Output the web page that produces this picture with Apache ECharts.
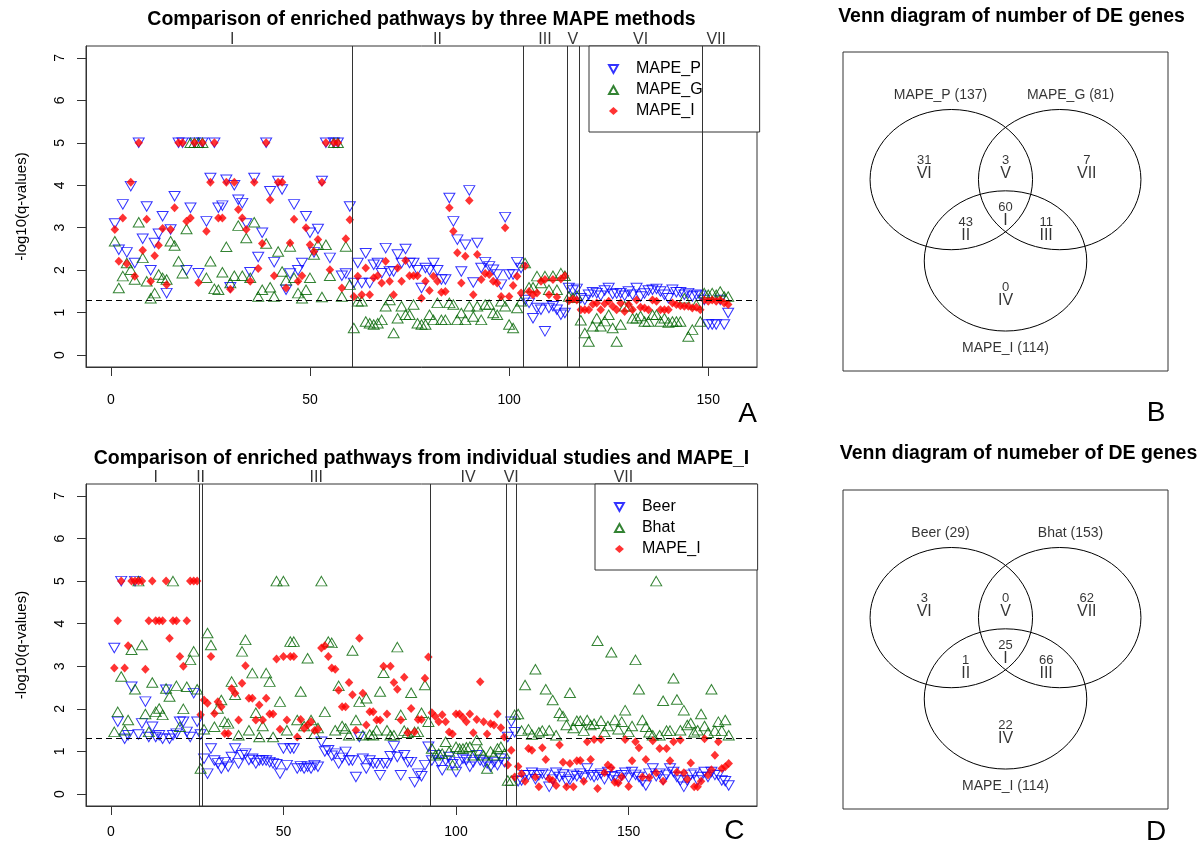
<!DOCTYPE html>
<html>
<head>
<meta charset="utf-8">
<script src="https://cdn.jsdelivr.net/npm/echarts@6/dist/echarts.min.js"></script>
<style>
html,body{margin:0;padding:0;background:#fff}
#chart{width:1204px;height:845px}
</style>
</head>
<body>
<div id="chart"></div>
<script>
// ---------- data ----------
// Regions of the three-way Venn diagram, in the order they are laid out on the x axis
const regionNames = ['I', 'II', 'III', 'IV', 'V', 'VI', 'VII'];
// which of the three sets (0, 1, 2) each region lies in
const regionSets = [[0, 1, 2], [0, 2], [1, 2], [2], [0, 1], [0], [1]];

const methodsTop = ['MAPE_P', 'MAPE_G', 'MAPE_I'];
const countsTop = [60, 43, 11, 0, 3, 31, 7];

const studiesBottom = ['Beer', 'Bhat', 'MAPE_I'];
const countsBottom = [25, 1, 66, 22, 0, 3, 62];

const yTicks = [0, 1, 2, 3, 4, 5, 6, 7];
const xTicks = [0, 50, 100, 150];
const qCut = 1.3; // -log10(0.05)

// -log10(q) per pathway, top panel
const mapeP = [
  3.1, 2.48, 3.55, 2.42, 3.98, 2.17, 5, 2.74, 3.5, 2.0,
  2.64, 2.86, 3.27, 1.46, 2.96, 3.74, 5, 5, 2.0, 3.47,
  5, 1.93, 5, 3.15, 4.17, 5, 3.47, 3.52, 4.13, 1.6,
  4.0, 3.66, 3.58, 3.1, 1.95, 4.17, 2.31, 2.88, 5, 3.86,
  2.19, 4.1, 3.9, 1.54, 1.92, 3.55, 2.0, 2.17, 3.27, 2.88,
  2.42, 2.97, 4.1, 5, 2.29, 5, 5, 1.87, 1.92, 3.5,
  1.7, 2.17, 1.7, 2.4, 1.7, 2.13, 2.17, 1.93, 2.52, 1.97,
  1.97, 2.37, 2.17, 2.5, 2.17, 2.17, 2.0, 1.58, 2.05, 2.0,
  2.17, 2.0, 1.78, 1.78, 3.7, 3.15, 2.72, 1.97, 2.6, 3.88,
  1.71, 2.64, 2.05, 2.19, 2.09, 2.01, 1.9, 1.66, 3.25, 1.9,
  1.9, 2.19, 2.05, 1.3, 1.23, 0.87, 1.11, 1.07, 0.56, 1.11,
  1.15, 1.07, 0.95, 0.99, 1.58, 1.52, 1.56, 1.34, 1.3, 1.42,
  1.48, 1.46, 1.4, 1.52, 1.58, 1.44, 1.45, 1.46, 1.4, 1.5,
  1.42, 1.58, 1.38, 1.45, 1.52, 1.54, 1.56, 1.5, 1.42, 1.34,
  1.54, 1.48, 1.48, 1.42, 1.46, 1.38, 1.42, 1.4, 1.3, 0.72,
  0.72, 0.72, 1.3, 0.72, 0.99
];
const mapeG = [
  2.68, 1.58, 1.86, 2.17, 2.01, 1.78, 3.13, 2.29, 1.74, 1.34,
  1.46, 1.9, 1.82, 1.78, 2.68, 2.58, 2.21, 1.93, 2.97, 5,
  5, 5, 5, 1.82, 2.21, 1.56, 1.54, 1.95, 2.55, 1.7,
  1.87, 3.05, 1.87, 2.76, 1.82, 3.13, 1.38, 1.54, 2.63, 1.6,
  1.38, 2.44, 1.97, 1.76, 2.56, 1.82, 1.46, 1.34, 1.54, 1.82,
  2.37, 2.6, 1.37, 2.6, 1.87, 5, 5, 1.38, 2.56, 1.66,
  0.64, 1.27, 1.27, 0.79, 0.75, 0.72, 0.75, 0.83, 1.15, 1.3,
  0.52, 0.87, 1.15, 0.95, 0.95, 1.19, 0.75, 0.72, 0.72, 0.95,
  0.83, 1.23, 0.83, 0.83, 1.23, 1.19, 0.83, 0.99, 0.83, 1.15,
  0.91, 1.15, 0.83, 1.19, 1.19, 0.99, 0.95, 1.27, 1.15, 0.72,
  0.64, 1.11, 1.27, 2.17, 1.6, 1.6, 1.86, 1.7, 1.86, 1.54,
  1.87, 1.54, 1.93, 1.87, 1.38, 1.35, 1.4, 0.82, 0.52, 0.32,
  0.68, 0.87, 0.68, 0.8, 0.95, 0.64, 0.32, 0.72, 1.15, 1.15,
  0.87, 0.87, 0.92, 0.79, 0.79, 0.95, 0.95, 0.79, 0.87, 0.77,
  0.79, 0.79, 0.79, 1.34, 0.44, 0.6, 1.19, 0.79, 1.46, 1.42,
  1.46, 1.42, 1.5, 1.38, 1.38
];
const mapeI = [
  2.96, 2.21, 3.23, 2.15, 4.07, 1.86, 5, 2.47, 3.2, 1.74,
  2.34, 2.59, 2.98, 1.66, 2.96, 3.47, 5, 5, 3.15, 3.23,
  5, 1.71, 5, 2.92, 4.07, 5, 3.23, 3.23, 4.07, 1.55,
  4.07, 3.43, 3.23, 2.96, 1.74, 4.07, 2.04, 2.63, 5, 3.66,
  1.87, 4.07, 4.07, 1.58, 2.64, 3.2, 1.74, 1.87, 3.0, 2.6,
  2.44, 2.72, 4.07, 5, 2.01, 5, 5, 1.58, 2.74, 3.19,
  1.38, 1.86, 1.42, 2.05, 1.42, 1.82, 1.87, 1.7, 2.21, 1.74,
  1.42, 2.05, 1.74, 2.23, 1.87, 1.87, 1.87, 1.34, 1.74, 1.52,
  1.86, 1.74, 1.48, 1.5, 3.47, 2.92, 2.41, 1.7, 2.33, 3.64,
  1.42, 2.37, 1.78, 1.92, 1.9, 1.74, 1.7, 1.38, 3.0, 1.38,
  1.64, 1.86, 1.46, 2.1, 1.5, 1.42, 1.46, 1.74, 1.78, 1.42,
  1.78, 1.37, 1.79, 1.87, 1.28, 1.32, 1.3, 1.07, 1.07, 1.07,
  1.2, 1.23, 1.07, 1.21, 1.27, 1.15, 1.07, 1.23, 1.03, 1.19,
  1.07, 1.3, 1.13, 1.11, 1.07, 1.3, 1.27, 1.07, 1.07, 1.07,
  1.23, 1.19, 1.16, 1.15, 1.15, 1.11, 1.13, 1.07, 1.3, 1.27,
  1.3, 1.27, 1.3, 1.23, 1.19
];

// -log10(q) per pathway, bottom panel
const beer = [
  3.43, 1.7, 5, 1.3, 1.38, 2.52, 5, 1.4, 1.66, 2.17,
  1.34, 1.58, 1.34, 1.38, 1.3, 2.45, 1.3, 1.38, 1.42, 1.7,
  1.7, 1.46, 1.34, 2.37, 1.7,
  1.4,
  0.83, 0.48, 1.07, 0.79, 0.72, 0.6, 0.75, 0.64, 0.87, 1.07,
  0.72, 0.91, 0.95, 0.8, 0.83, 0.72, 0.79, 0.79, 0.79, 0.75,
  0.72, 0.7, 0.48, 1.07, 0.68, 1.07, 1.07, 0.6, 0.65, 0.6,
  0.64, 0.6, 0.68, 0.64, 1.23, 1.0, 1.03, 0.9, 0.95, 0.72,
  0.85, 0.99, 0.79, 0.79, 0.4, 1.34, 0.83, 0.6, 0.79, 0.72,
  0.72, 0.44, 0.72, 0.72, 0.89, 1.12, 0.87, 0.44, 0.91, 0.75,
  0.75, 0.28, 0.48, 0.42, 0.68, 1.11,
  0.79, 0.91, 0.75, 0.56, 0.79, 0.87, 0.7, 0.52, 0.75, 0.83,
  0.8, 0.64, 0.75, 0.91, 0.79, 0.75, 0.72, 0.64, 0.75, 0.68, 0.83, 0.75,
  1.34, 1.7, 1.45,
  0.3, 0.32, 0.44, 0.44, 0.5, 0.35, 0.44, 0.48, 0.45, 0.17,
  0.34, 0.5, 0.4, 0.46, 0.3, 0.34, 0.45, 0.42, 0.48, 0.38,
  0.6, 0.44, 0.4, 0.44, 0.48, 0.35, 0.52, 0.42, 0.4, 0.32,
  0.44, 0.5, 0.38, 0.52, 0.45, 0.4, 0.3, 0.2, 0.48, 0.6,
  0.42, 0.48, 0.34, 0.45, 0.6, 0.52, 0.4, 0.32, 0.17, 0.32,
  0.45, 0.48, 0.32, 0.4, 0.52, 0.4, 0.52, 0.45, 0.44, 0.32,
  0.3, 0.2
];
const bhat = [
  1.46, 1.93, 2.76, 1.5, 1.74, 3.39, 2.46, 5, 3.5, 1.88,
  1.46, 2.62, 1.93, 2.01, 1.86, 2.48, 2.29, 5, 2.54, 1.58,
  2.0, 2.52, 3.15, 3.35, 2.46,
  0.6,
  1.52, 3.78, 3.5, 1.58, 2.01, 2.21, 1.7, 1.66, 2.64, 2.33,
  1.38, 3.35, 3.62, 1.5, 2.84, 1.91, 1.34, 1.6, 2.84, 2.64,
  1.34, 5, 2.17, 5, 1.5, 3.58, 3.58, 1.74, 2.41, 1.6,
  3.19, 1.74, 1.42, 1.55, 5, 1.93, 3.58, 3.55, 1.5, 2.54,
  1.6, 1.54, 1.38, 3.37, 1.74, 2.17, 1.38, 2.25, 1.4, 1.38,
  1.5, 2.41, 2.85, 1.5, 1.38, 1.38, 3.45, 1.86, 1.49, 1.44,
  2.38, 1.46, 1.46, 1.91, 2.56, 1.7,
  1.07, 0.91, 0.95, 0.95, 1.23, 1.0, 0.68, 1.11, 1.07, 1.07,
  1.1, 1.11, 0.91, 1.27, 1.03, 0.91, 0.6, 1.0, 0.91, 1.07, 1.11, 0.95,
  0.32, 0.32, 1.86,
  1.88, 1.49, 2.56, 1.52, 1.4, 2.93, 1.45, 1.49, 2.46, 1.5,
  2.21, 1.38, 1.91, 1.83, 1.62, 2.38, 1.55, 1.72, 1.72, 1.49,
  1.74, 1.62, 1.65, 3.6, 1.72, 1.46, 1.6, 3.33, 1.74, 1.52,
  1.7, 1.97, 1.46, 1.6, 3.15, 2.46, 1.74, 1.58, 1.45, 1.38,
  5.0, 1.38, 2.19, 1.49, 1.49, 2.72, 2.22, 1.5, 1.97, 1.62,
  1.67, 1.45, 1.5, 1.88, 1.6, 1.44, 2.46, 1.49, 1.7, 1.49,
  1.74, 1.38
];
const mapeIStudies = [
  2.96, 4.07, 5, 2.96, 3.48, 5, 5, 5, 5, 2.93,
  4.07, 5, 4.07, 4.07, 4.07, 5, 3.66, 4.07, 4.07, 3.23,
  3.0, 4.07, 5, 5, 5,
  1.86,
  2.21, 2.13, 3.23, 1.89, 2.17, 2.05, 1.42, 1.42, 2.48, 2.37,
  1.74, 2.6, 3.01, 2.25, 2.25, 1.74, 2.09, 1.74, 2.25, 1.88,
  1.88, 3.17, 1.52, 3.23, 1.74, 3.23, 3.23, 1.34, 1.75, 1.54,
  1.62, 1.7, 1.49, 1.52, 3.43, 3.48, 3.23, 2.96, 2.93, 2.44,
  2.05, 2.05, 2.62, 2.33, 1.5, 3.66, 2.37, 1.62, 1.93, 1.93,
  1.74, 1.74, 3.0, 1.88, 3.0, 2.62, 2.46, 1.74, 2.74, 1.44,
  2.01, 1.46, 1.75, 1.75, 2.72, 3.22,
  1.91, 1.82, 1.7, 1.86, 1.7, 1.46, 1.41, 1.88, 1.88, 1.8,
  1.7, 1.88, 1.44, 1.75, 2.64, 1.7, 1.41, 1.65, 1.62, 1.88, 1.56, 1.34,
  0.68, 1.03, 0.4,
  0.65, 0.48, 0.3, 1.07, 1.03, 0.4, 0.17, 1.09, 0.81, 0.36,
  0.32, 0.2, 1.15, 0.75, 0.17, 0.72, 0.17, 0.78, 0.79, 0.3,
  1.23, 0.81, 1.28, 0.13, 1.28, 0.5, 0.68, 0.62, 0.28, 0.26,
  0.4, 1.28, 0.18, 0.78, 1.23, 1.09, 0.4, 0.81, 0.39, 1.25,
  0.5, 1.07, 0.3, 1.07, 0.78, 1.23, 0.52, 1.27, 0.5, 0.35,
  0.73, 0.17, 0.17, 0.3, 1.3, 0.45, 0.57, 0.91, 1.23, 0.6,
  0.64, 0.72
];

// ---------- layout ----------
const FONT = '"Liberation Sans", Arial, sans-serif';
const Y_MIN = -0.28, Y_MAX = 7.28;
const gridTop = { left: 86, top: 46, width: 671, height: 321 };
const gridBottom = { left: 86, top: 484, width: 671, height: 322 };
const vennTopBox = { left: 843, top: 52, width: 325, height: 319 };
const vennBottomBox = { left: 843, top: 490, width: 325, height: 319 };
// Venn geometry, in circle-radius units
const vennCircles = [[-0.667, 0.58], [0.667, 0.58], [0, -0.58]];
const vennRegionPos = [[0, 0.08], [-0.49, -0.14], [0.5, -0.14], [0, -1.06], [0, 0.75], [-1.0, 0.75], [1.0, 0.75]];
const vennNamePos = [[-0.8, 1.79], [0.8, 1.79], [0, -1.82]];

// ---------- helpers ----------
const points = arr => arr.map((v, i) => [i + 1, v]);

// x positions of the separators between consecutive regions
function separators(counts) {
  const out = [];
  let c = 0;
  for (let i = 0; i < counts.length - 1; i++) { c += counts[i]; out.push(c + 0.5); }
  return out;
}
// centre of every non-empty region, for the numerals above the plot
function regionCentres(counts) {
  const out = [];
  let c = 0;
  counts.forEach((n, i) => {
    if (n > 0) out.push({ value: [c + 0.5 + n / 2, Y_MAX], txt: regionNames[i] });
    c += n;
  });
  return out;
}
function setTotals(counts) {
  return [0, 1, 2].map(s => counts.reduce((a, n, i) => a + (regionSets[i].includes(s) ? n : 0), 0));
}

// marker per series position: open down-triangle, open up-triangle, filled diamond
const markerStyles = [
  { symbol: 'triangle', symbolRotate: 180, symbolSize: [11, 9.5],
    itemStyle: { color: 'rgba(255,255,255,0)', borderColor: '#0000ff', borderWidth: 1 } },
  { symbol: 'triangle', symbolSize: [11, 9.5],
    itemStyle: { color: 'rgba(255,255,255,0)', borderColor: '#006400', borderWidth: 1 } },
  { symbol: 'diamond', symbolSize: [8.5, 9],
    itemStyle: { color: '#ff0000' } }
];
const legendIcons = ['path://M0,0L10,0L5,9Z', 'path://M5,0L10,9L0,9Z', 'diamond'];

function panelSeries(gi, names, values, counts) {
  const list = names.map((nm, k) => Object.assign({
    type: 'scatter', name: nm, xAxisIndex: gi, yAxisIndex: gi,
    data: points(values[k]), silent: true, emphasis: { disabled: true }, z: 2 + k
  }, markerStyles[k]));
  list[0].markLine = {
    silent: true, symbol: 'none', animation: false,
    label: { show: false },
    lineStyle: { color: '#333', width: 1, type: 'solid' },
    data: separators(counts).map(b => ({ xAxis: b }))
      .concat([{ yAxis: qCut, lineStyle: { color: '#000', type: [6, 4], width: 1 } }])
  };
  list.push({
    type: 'scatter', xAxisIndex: gi, yAxisIndex: gi, silent: true, clip: false,
    symbolSize: 0, data: regionCentres(counts),
    label: { show: true, position: 'inside', offset: [0, -6], formatter: p => p.data.txt,
      fontSize: 16, color: '#000', fontFamily: FONT }
  });
  return list;
}

function vennSeries(gi, names, counts) {
  const tot = setTotals(counts);
  return [
    {
      type: 'custom', xAxisIndex: gi, yAxisIndex: gi, silent: true, clip: false,
      data: vennCircles,
      renderItem: (params, api) => {
        const c = api.coord([api.value(0), api.value(1)]);
        const s = api.size([1, 1]);
        return { type: 'ellipse', shape: { cx: c[0], cy: c[1], rx: s[0], ry: s[1] },
          style: { fill: 'none', stroke: '#000', lineWidth: 1 } };
      }
    },
    {
      type: 'scatter', xAxisIndex: gi, yAxisIndex: gi, silent: true, symbolSize: 0,
      data: names.map((nm, k) => ({ value: vennNamePos[k], txt: nm + ' (' + tot[k] + ')' })),
      label: { show: true, position: 'inside', formatter: p => p.data.txt,
        fontSize: 14, color: '#000', fontFamily: FONT }
    },
    {
      type: 'scatter', xAxisIndex: gi, yAxisIndex: gi, silent: true, symbolSize: 0,
      data: counts.map((n, i) => ({ value: vennRegionPos[i], txt: '{n|' + n + '}\n{r|' + regionNames[i] + '}' })),
      label: { show: true, position: 'inside', formatter: p => p.data.txt,
        rich: {
          n: { fontSize: 13, lineHeight: 12, color: '#000', fontFamily: FONT, align: 'center' },
          r: { fontSize: 16, lineHeight: 15, color: '#000', fontFamily: FONT, align: 'center' }
        } }
    }
  ];
}

function scatterX(gi, min, max, margin) {
  return {
    gridIndex: gi, type: 'value', min: min, max: max,
    axisLine: { show: true, onZero: false, lineStyle: { color: '#333' } },
    axisTick: { show: true, length: 9, customValues: xTicks, lineStyle: { color: '#333' } },
    axisLabel: { customValues: xTicks, margin: margin, fontSize: 14, color: '#000', fontFamily: FONT },
    splitLine: { show: false }
  };
}
function scatterY(gi) {
  return {
    gridIndex: gi, type: 'value', min: Y_MIN, max: Y_MAX,
    name: '-log10(q-values)', nameLocation: 'middle', nameGap: 57, nameRotate: 90,
    nameTextStyle: { fontSize: 15, color: '#000', fontFamily: FONT },
    axisLine: { show: true, onZero: false, lineStyle: { color: '#333' } },
    axisTick: { show: true, length: 9, customValues: yTicks, lineStyle: { color: '#333' } },
    axisLabel: { customValues: yTicks, rotate: 90, margin: 19, fontSize: 14, color: '#000', fontFamily: FONT },
    splitLine: { show: false }
  };
}
const hiddenAxis = (gi, min, max) => ({ gridIndex: gi, type: 'value', min: min, max: max, show: false });

function legendFor(names, left, top) {
  return {
    data: names.map((nm, k) => ({ name: nm, icon: legendIcons[k] })),
    left: left, top: top, orient: 'vertical',
    itemWidth: 9, itemHeight: 8, itemGap: 5, padding: [15, 57, 13, 19],
    borderColor: '#333', borderWidth: 1, backgroundColor: '#fff',
    selectedMode: false,
    textStyle: { fontSize: 16, lineHeight: 16, color: '#000', fontFamily: FONT, padding: [0, 0, 0, 13] }
  };
}

const textEl = (txt, x, y, font) => ({
  type: 'text', x: x, y: y, silent: true,
  style: { text: txt, font: font, fill: '#000', align: 'center', verticalAlign: 'middle' }
});
const titleFont = 'bold 19.5px ' + FONT;
const letterFont = '28px ' + FONT;

const gridBase = { show: true, borderColor: '#333', borderWidth: 1, backgroundColor: 'rgba(0,0,0,0)', outerBoundsMode: 'none' };

const option = {
  animation: false,
  backgroundColor: '#fff',
  grid: [
    Object.assign({}, gridBase, gridTop),
    Object.assign({}, gridBase, gridBottom),
    Object.assign({}, gridBase, vennTopBox),
    Object.assign({}, gridBase, vennBottomBox)
  ],
  xAxis: [
    scatterX(0, -6.24, 162.24, 26),
    scatterX(1, -7.2, 187.2, 19),
    hiddenAxis(2, -2, 2),
    hiddenAxis(3, -2, 2)
  ],
  yAxis: [
    scatterY(0),
    scatterY(1),
    hiddenAxis(2, -2.15, 2.4),
    hiddenAxis(3, -2.15, 2.4)
  ],
  legend: [
    legendFor(methodsTop, 589, 46),
    legendFor(studiesBottom, 595, 484)
  ],
  series: [].concat(
    panelSeries(0, methodsTop, [mapeP, mapeG, mapeI], countsTop),
    panelSeries(1, studiesBottom, [beer, bhat, mapeIStudies], countsBottom),
    vennSeries(2, methodsTop, countsTop),
    vennSeries(3, studiesBottom, countsBottom)
  ),
  graphic: [
    textEl('Comparison of enriched pathways by three MAPE methods', 421.5, 20, titleFont),
    textEl('Comparison of enriched pathways from individual studies and MAPE_I', 421.5, 458.5, titleFont),
    textEl('Venn diagram of number of DE genes', 1011.5, 16.5, titleFont),
    textEl('Venn diagram of numeber of DE genes', 1018.5, 454, titleFont),
    textEl('A', 747.7, 414, letterFont),
    textEl('B', 1156, 413, letterFont),
    textEl('C', 734.3, 831, letterFont),
    textEl('D', 1156, 832.5, letterFont)
  ]
};

const chart = echarts.init(document.getElementById('chart'), null, { renderer: 'canvas' });
chart.setOption(option);
</script>
</body>
</html>
